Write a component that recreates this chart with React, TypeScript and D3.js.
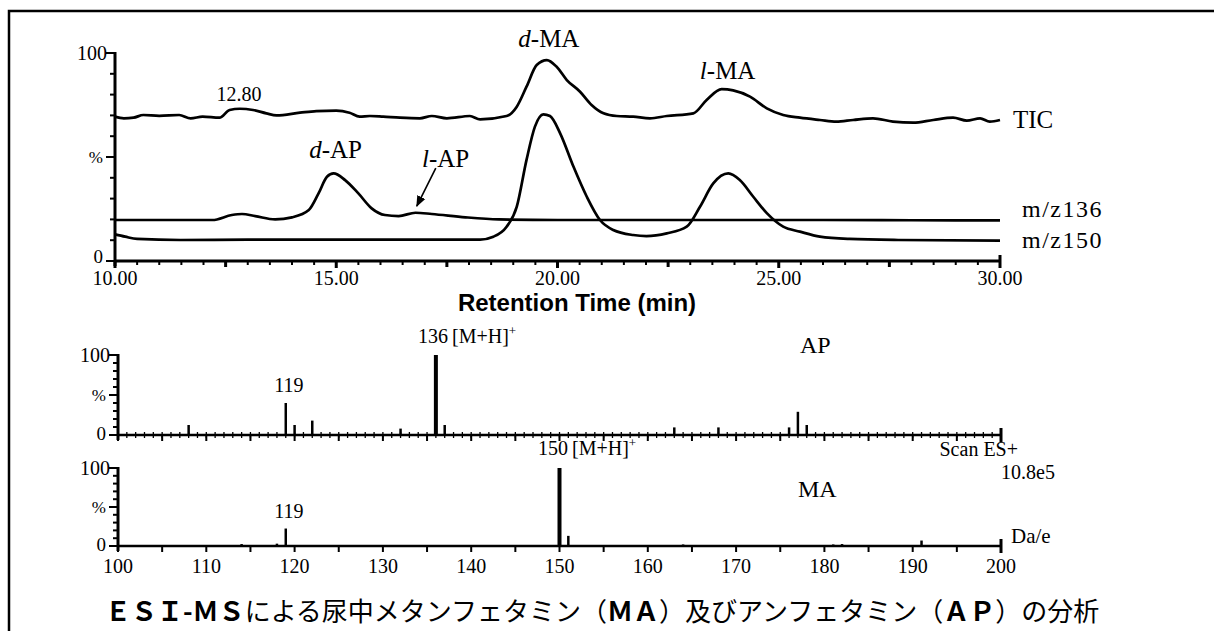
import * as d3 from 'd3'

// chromatogram traces, [retention time (min), relative intensity %]
const ticTrace: [number, number][] = [
  [10.0, 69.4], [10.2, 68.6], [10.42, 68.9], [10.64, 70.2], [11.0, 69.8], [11.45, 70.2], [11.71, 68.6],
  [11.98, 69.4], [12.36, 68.9], [12.59, 72.6], [12.82, 73.2], [13.12, 72.6], [13.42, 71.0], [13.65, 70.0],
  [14.18, 71.3], [14.55, 72.1], [15.0, 72.3], [15.3, 71.3], [15.53, 69.4], [15.76, 69.7], [16.06, 69.4],
  [16.44, 68.9], [16.89, 68.6], [17.16, 69.7], [17.5, 68.6], [18.02, 69.7], [18.25, 68.1], [18.85, 69.7],
  [19.08, 74.2], [19.3, 83.8], [19.53, 94.2], [19.76, 96.6], [19.98, 93.4], [20.21, 87], [20.51, 81.4],
  [20.77, 75], [21.04, 71], [21.34, 69.7], [21.71, 69.4], [22.09, 68.6], [22.47, 69.7], [23.07, 71],
  [23.37, 77.4], [23.71, 82.6], [23.97, 82], [24.35, 79], [24.73, 73.4], [25.1, 70.2], [25.48, 68.9],
  [25.93, 67.8], [26.3, 67], [26.68, 67.8], [27.13, 68.6], [27.58, 67], [28.04, 66.5], [28.49, 67.8],
  [28.94, 68.9], [29.25, 67.5], [29.55, 68.6], [29.77, 67], [30, 67.8],
]
const mz136Trace: [number, number][] = [
  [10, 19.7], [11, 19.7], [12.2, 19.7], [12.64, 22.1], [12.87, 22.6], [13.17, 21.6], [13.62, 20.0],
  [14.0, 21.0], [14.38, 24.5], [14.6, 32.5], [14.79, 40.5], [14.94, 42.1], [15.2, 38.9], [15.5, 32.5],
  [15.8, 25.3], [16.1, 22.1], [16.41, 21.6], [16.79, 23.2], [17.16, 22.6], [17.92, 21.0], [18.67, 20.0],
  [20, 19.7], [22, 19.7], [24, 19.7], [26, 19.7], [28, 19.6], [30, 19.5],
]
const mz150Trace: [number, number][] = [
  [10, 12.8], [10.23, 11.7], [10.5, 10.6], [11.48, 10.1], [13, 10.3], [15, 10.3], [17, 10.3], [18.25, 10.3],
  [18.55, 11.7], [18.85, 16.5], [19.08, 26.1], [19.3, 48.6], [19.49, 64.6], [19.68, 70.5], [19.83, 69.7],
  [20.06, 61.4], [20.36, 45.4], [20.66, 31.0], [20.96, 19.7], [21.26, 14.9], [21.71, 12.5], [22.01, 12.0],
  [22.47, 13.3], [22.92, 16.5], [23.22, 26.1], [23.52, 37.3], [23.86, 42.1], [24.12, 38.9], [24.42, 31],
  [24.73, 23], [25.1, 16.5], [25.48, 14.1], [25.93, 11.7], [26.6, 10.6], [27.7, 10.1], [30, 9.8],
]

const rtTicks = [10, 15, 20, 25, 30]
const rtTickLabels = ['10.00', '15.00', '20.00', '25.00', '30.00']

// mass spectra, [m/z, relative intensity %]
const apPeaks: [number, number][] = [
  [108, 12.5], [119, 40], [120, 12.5], [122, 18], [132, 8], [136, 100], [137, 12.5],
  [163, 9.5], [168, 9.5], [176, 9.5], [177, 29], [178, 12.5],
]
const maPeaks: [number, number][] = [
  [114, 2.5], [118, 3], [119, 22.4], [150, 100], [151, 13], [164, 2], [181, 2], [182, 2.5], [191, 7],
]
const mzTicks = [100, 110, 120, 130, 140, 150, 160, 170, 180, 190, 200]

const serif = '"Liberation Serif", "Times New Roman", serif'

export default function App() {
  const x = d3.scaleLinear().domain([10, 30]).range([115, 1000])
  const y = d3.scaleLinear().domain([0, 100]).range([261, 53])
  const mx = d3.scaleLinear().domain([100, 200]).range([118, 1001])
  const yAP = d3.scaleLinear().domain([0, 100]).range([435, 355])
  const yMA = d3.scaleLinear().domain([0, 100]).range([546, 468])

  const line = d3.line<[number, number]>()
    .x(d => x(d[0]))
    .y(d => y(d[1]))
    .curve(d3.curveMonotoneX)

  const minorRt = d3.range(10, 30.001, 0.5)
  const pctTicks = d3.range(0, 101, 10)

  const yAxis = (sc: d3.ScaleLinear<number, number>, x0: number, zeroDy: number) => (
    <g>
      <line x1={x0} x2={x0} y1={sc(100) - 1} y2={sc(0) + 5} stroke="#000" strokeWidth={3} />
      {pctTicks.map(t => (
        <line key={t} x1={x0 - (t % 50 === 0 ? 9 : 5)} x2={x0} y1={sc(t)} y2={sc(t)} stroke="#000" strokeWidth={2} />
      ))}
      <text x={x0 - 8} y={sc(100) + 7} textAnchor="end" fontSize={20}>100</text>
      <text x={x0 - 12} y={sc(50) + 6} textAnchor="end" fontSize={17}>%</text>
      <text x={x0 - 12} y={sc(0) + zeroDy} textAnchor="end" fontSize={19}>0</text>
    </g>
  )

  const specAxis = (sc: d3.ScaleLinear<number, number>, minor: boolean) => (
    <g>
      <line x1={mx(100)} x2={mx(200)} y1={sc(0)} y2={sc(0)} stroke="#000" strokeWidth={2.5} />
      {minor && d3.range(101, 200, 1).map(t => (
        <line key={'m' + t} x1={mx(t)} x2={mx(t)} y1={sc(0) - 3} y2={sc(0) + 3} stroke="#000" strokeWidth={1.3} />
      ))}
      {d3.range(100, 200, 5).map(t => (
        <line key={t} x1={mx(t)} x2={mx(t)} y1={sc(0)} y2={sc(0) + 6} stroke="#000" strokeWidth={2} />
      ))}
      <line x1={mx(200)} x2={mx(200)} y1={sc(0) - 7} y2={sc(0) + 7} stroke="#000" strokeWidth={3} />
    </g>
  )

  return (
    <svg width={1214} height={631} style={{ position: 'absolute', left: 0, top: 0, background: '#fff' }}
      fontFamily={serif}>
      <rect x={9} y={11} width={1300} height={700} fill="none" stroke="#000" strokeWidth={2.5} />

      {/* chromatogram */}
      <g fill="none" stroke="#000" strokeWidth={2.7} strokeLinejoin="round">
        <path d={line(ticTrace) ?? ''} />
        <path d={line(mz136Trace) ?? ''} />
        <path d={line(mz150Trace) ?? ''} />
      </g>
      {yAxis(y, x(10), 2)}
      <line x1={x(10)} x2={x(30)} y1={y(0)} y2={y(0)} stroke="#000" strokeWidth={3} />
      {minorRt.map(t => {
        const big = t % 5 === 0
        const mid = t % 2.5 === 0
        return <line key={t} x1={x(t)} x2={x(t)} y1={t === 30 ? y(0) - 6 : y(0)} y2={y(0) + (big ? 7 : mid ? 6 : 4)}
          stroke="#000" strokeWidth={big || mid ? 3 : 2} />
      })}
      {rtTicks.map((t, i) => (
        <text key={t} x={x(t)} y={285} textAnchor="middle" fontSize={20}>{rtTickLabels[i]}</text>
      ))}
      <text x={577} y={311} textAnchor="middle" fontFamily='"Liberation Sans", Arial, sans-serif'
        fontWeight="bold" fontSize={24}>Retention Time (min)</text>

      <text x={x(12.8)} y={101} textAnchor="middle" fontSize={20}>12.80</text>
      <text x={x(19.76) + 2} y={47} textAnchor="middle" fontSize={25}><tspan fontStyle="italic">d</tspan>-MA</text>
      <text x={x(23.8) + 2} y={79} textAnchor="middle" fontSize={25}><tspan fontStyle="italic">l</tspan>-MA</text>
      <text x={x(14.94) + 2} y={158} textAnchor="middle" fontSize={25}><tspan fontStyle="italic">d</tspan>-AP</text>
      <text x={x(17.2) + 12} y={167} textAnchor="middle" fontSize={25}><tspan fontStyle="italic">l</tspan>-AP</text>
      <defs>
        <marker id="arr" viewBox="0 0 10 10" refX={9} refY={5} markerWidth={7} markerHeight={7} orient="auto">
          <path d="M0,1 L10,5 L0,9 Z" fill="#000" />
        </marker>
      </defs>
      <line x1={x(17.25)} y1={y(44.7)} x2={x(16.82)} y2={y(26.4)} stroke="#000" strokeWidth={1.6} markerEnd="url(#arr)" />
      <text x={1013} y={128} fontSize={25}>TIC</text>
      <text x={1022} y={217} fontSize={24} letterSpacing={1.5}>m/z136</text>
      <text x={1022} y={248} fontSize={24} letterSpacing={1.5}>m/z150</text>

      {/* AP spectrum */}
      {specAxis(yAP, true)}
      {yAxis(yAP, mx(100), 5)}
      {apPeaks.map(([m, v]) => (
        <line key={m} x1={mx(m)} x2={mx(m)} y1={yAP(0)} y2={yAP(v)} stroke="#000" strokeWidth={v > 50 ? 4 : 2.5} />
      ))}
      <text x={mx(119) + 3} y={392} textAnchor="middle" fontSize={20}>119</text>
      <text x={418} y={343} fontSize={20}>136<tspan dx={4}>[M+H]</tspan><tspan dy={-8} fontSize={13}>+</tspan></text>
      <text x={800} y={353} fontSize={24}>AP</text>
      <text x={1018} y={456} textAnchor="end" fontSize={20}>Scan ES+</text>

      {/* MA spectrum */}
      {specAxis(yMA, false)}
      {yAxis(yMA, mx(100), 5)}
      {maPeaks.map(([m, v]) => (
        <line key={m} x1={mx(m)} x2={mx(m)} y1={yMA(0)} y2={yMA(v)} stroke="#000" strokeWidth={v > 50 ? 4 : 2.5} />
      ))}
      <text x={mx(119) + 3} y={518} textAnchor="middle" fontSize={20}>119</text>
      <text x={538} y={455} fontSize={20}>150<tspan dx={4}>[M+H]</tspan><tspan dy={-8} fontSize={13}>+</tspan></text>
      <text x={798} y={497} fontSize={24}>MA</text>
      <text x={1055} y={479} textAnchor="end" fontSize={20}>10.8e5</text>
      <text x={1011} y={543} fontSize={21}>Da/e</text>
      {mzTicks.map(t => (
        <text key={t} x={mx(t)} y={573} textAnchor="middle" fontSize={20}>{t}</text>
      ))}

      <text x={105} y={621} fontFamily='"Noto Sans CJK JP", sans-serif' fontSize={26}>
        <tspan fontWeight="bold">ＥＳＩ-ＭＳ</tspan>による尿中メタンフェタミン（<tspan fontWeight="bold">ＭＡ</tspan>）及びアンフェタミン（<tspan fontWeight="bold">ＡＰ</tspan>）の分析
      </text>
    </svg>
  )
}
